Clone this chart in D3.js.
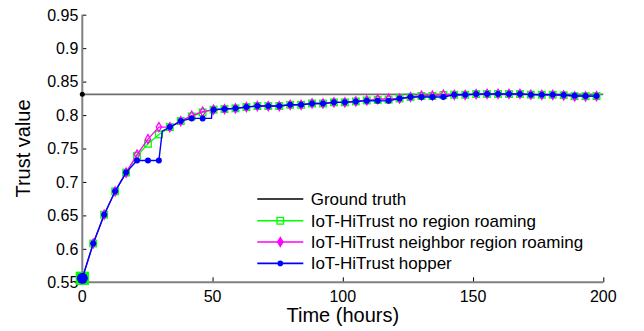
<!DOCTYPE html>
<html>
<head>
<meta charset="utf-8">
<script src="https://cdn.jsdelivr.net/npm/d3@7"></script>
<style>
body { margin: 0; background: #fff; }
text { font-family: Arial, "Liberation Sans", sans-serif; fill: #000; }
</style>
</head>
<body>
<div id="chart"></div>
<script>
// time of each sample (hours)
var times = [0, 4.2, 8.4, 12.6, 16.8, 21, 25.2, 29.4, 33.6, 37.8, 42, 46.2, 50.4, 54.6, 58.8, 63,
    67.2, 71.4, 75.6, 79.8, 84, 88.2, 92.4, 96.6, 100.8, 105, 109.2, 113.4, 117.6, 121.8, 126, 130.2,
    134.4, 138.6, 142.8, 147, 151.2, 155.4, 159.6, 163.8, 168, 172.2, 176.4, 180.6, 184.8, 189, 193.2, 197.4];

var groundTruth = 0.831;

var noRoaming = [0.556, 0.608, 0.651, 0.686, 0.714, 0.739, 0.757, 0.771, 0.782, 0.791, 0.798, 0.804,
    0.808, 0.809, 0.810, 0.812, 0.8135, 0.8135, 0.8135, 0.8153, 0.8153, 0.8173, 0.8173, 0.819, 0.819,
    0.8203, 0.8218, 0.8225, 0.823, 0.8247, 0.827, 0.8285, 0.8285, 0.830, 0.8303, 0.8303, 0.8313, 0.8315,
    0.8315, 0.8315, 0.8315, 0.8305, 0.8303, 0.8303, 0.8297, 0.8282, 0.8282, 0.8283];

var neighborRoaming = [0.556, 0.608, 0.651, 0.686, 0.714, 0.741, 0.764, 0.782, 0.782, 0.791, 0.799, 0.805,
    0.808, 0.809, 0.810, 0.812, 0.8135, 0.8135, 0.8135, 0.8153, 0.8153, 0.8173, 0.8173, 0.819, 0.819,
    0.8203, 0.8218, 0.8236, 0.8245, 0.8247, 0.827, 0.829, 0.829, 0.8305, 0.8303, 0.8303, 0.8313, 0.8315,
    0.8315, 0.8315, 0.8315, 0.8305, 0.8303, 0.8303, 0.8295, 0.828, 0.828, 0.8283];

var hopper = [0.556, 0.608, 0.651, 0.686, 0.714, 0.732, 0.732, 0.732, 0.782, 0.791, 0.795, 0.795,
    0.808, 0.809, 0.810, 0.812, 0.8135, 0.8135, 0.8135, 0.8153, 0.8153, 0.8173, 0.8173, 0.819, 0.819,
    0.8203, 0.8215, 0.8212, 0.8212, 0.8247, 0.827, 0.827, 0.827, 0.827, 0.8303, 0.8303, 0.8313, 0.8315,
    0.8315, 0.8315, 0.8315, 0.8305, 0.8303, 0.8303, 0.830, 0.8288, 0.8285, 0.8283];

// hopper line has extra (unmarked) samples where it jumps
var hopperSteps = [[30.7, 0.776], [49.6, 0.795], [49.8, 0.8066]];

var xTicks = [0, 50, 100, 150, 200];
var yTicks = [0.55, 0.6, 0.65, 0.7, 0.75, 0.8, 0.85, 0.9, 0.95];

var legendNames = ["Ground truth", "IoT-HiTrust no region roaming",
    "IoT-HiTrust neighbor region roaming", "IoT-HiTrust hopper"];
var legendColors = ["#000000", "#00ff00", "#ff00ff", "#0000ff"];

function make_chart(){

    var width = 644, height = 331;
    var left = 82.3, right = 603.3, top = 14.7, bottom = 282.3;

    var svg = d3.select("#chart")
        .append("svg")
        .attr("width", width)
        .attr("height", height);

    var x = d3.scaleLinear()
        .domain([0, 200])
        .range([left, right]);

    var y = d3.scaleLinear()
        .domain([0.55, 0.95])
        .range([bottom, top]);

    // axes, box off, ticks inward
    var xAxis = d3.axisTop(x).tickValues(xTicks).tickSize(5).tickFormat("");
    var yAxis = d3.axisRight(y).tickValues(yTicks).tickSize(4).tickFormat("");

    svg.append("g")
        .attr("class", "x axis")
        .attr("transform", "translate(0," + bottom + ")")
        .call(xAxis);
    svg.append("g")
        .attr("class", "y axis")
        .attr("transform", "translate(" + left + ",0)")
        .call(yAxis);

    svg.selectAll(".axis .domain").remove();
    svg.selectAll(".axis line").attr("stroke", "#000").attr("stroke-width", 1);

    svg.append("line")
        .attr("x1", left).attr("x2", left)
        .attr("y1", y(0.95)).attr("y2", y(0.55) + 1)
        .attr("stroke", "#808080").attr("stroke-width", 2);
    svg.append("line")
        .attr("x1", left - 1).attr("x2", right)
        .attr("y1", bottom).attr("y2", bottom)
        .attr("stroke", "#808080").attr("stroke-width", 2);

    svg.selectAll(".xlab")
        .data(xTicks)
        .enter()
        .append("text")
        .attr("class", "xlab")
        .attr("x", function(d){ return x(d); })
        .attr("y", bottom + 19.5)
        .style("text-anchor", "middle")
        .style("font-size", "16px")
        .text(function(d){ return d; });

    svg.selectAll(".ylab")
        .data(yTicks)
        .enter()
        .append("text")
        .attr("class", "ylab")
        .attr("x", left - 4)
        .attr("y", function(d){ return y(d) + 5.8; })
        .style("text-anchor", "end")
        .style("font-size", "16px")
        .text(function(d){ return d; });

    svg.append("text")
        .attr("x", (left + right) / 2)
        .attr("y", 322)
        .style("text-anchor", "middle")
        .style("font-size", "20px")
        .text("Time (hours)");

    svg.append("text")
        .attr("transform", "translate(29.5," + ((top + bottom) / 2) + ") rotate(-90)")
        .style("text-anchor", "middle")
        .style("font-size", "20px")
        .text("Trust value");

    // ground truth
    svg.append("line")
        .attr("x1", x(0)).attr("x2", x(200))
        .attr("y1", y(groundTruth)).attr("y2", y(groundTruth))
        .attr("stroke", "#6e6e6e").attr("stroke-width", 1.8);
    svg.append("circle")
        .attr("cx", x(0)).attr("cy", y(groundTruth))
        .attr("r", 2.5).attr("fill", "#000");

    var line = d3.line()
        .x(function(d){ return x(d[0]); })
        .y(function(d){ return y(d[1]); });

    function pairs(vals){
        return vals.map(function(v, i){ return [times[i], v]; });
    }

    var greenPts = pairs(noRoaming);
    var magPts = pairs(neighborRoaming);
    var bluePts = pairs(hopper);
    var blueLine = bluePts.concat(hopperSteps).sort(function(a, b){ return a[0] - b[0]; });

    svg.append("path").datum(greenPts).attr("d", line)
        .attr("fill", "none").attr("stroke", "#00ff00").attr("stroke-width", 1.3);
    svg.selectAll(".gm")
        .data(greenPts)
        .enter()
        .append("rect")
        .attr("class", "gm")
        .attr("x", function(d, i){ return x(d[0]) - (i == 0 ? 6 : 3.3); })
        .attr("y", function(d, i){ return y(d[1]) - (i == 0 ? 6 : 3.3); })
        .attr("width", function(d, i){ return i == 0 ? 12 : 6.6; })
        .attr("height", function(d, i){ return i == 0 ? 12 : 6.6; })
        .attr("fill", function(d, i){ return i == 0 ? "#00ff00" : "none"; })
        .attr("stroke", "#00ff00").attr("stroke-width", 1.3);

    svg.append("path").datum(magPts).attr("d", line)
        .attr("fill", "none").attr("stroke", "#ff00ff").attr("stroke-width", 1.3);
    var diamond = d3.symbol().type(d3.symbolDiamond).size(24);
    svg.selectAll(".mm")
        .data(magPts)
        .enter()
        .append("path")
        .attr("class", "mm")
        .attr("d", diamond)
        .attr("transform", function(d){ return "translate(" + x(d[0]) + "," + y(d[1]) + ")"; })
        .attr("fill", "none").attr("stroke", "#ff00ff").attr("stroke-width", 1.3);

    svg.append("path").datum(blueLine).attr("d", line)
        .attr("fill", "none").attr("stroke", "#0000ff").attr("stroke-width", 1.4);
    svg.selectAll(".bm")
        .data(bluePts)
        .enter()
        .append("circle")
        .attr("class", "bm")
        .attr("cx", function(d){ return x(d[0]); })
        .attr("cy", function(d){ return y(d[1]); })
        .attr("r", function(d, i){ return i == 0 ? 5.5 : 3; })
        .attr("fill", "#0000ff");

    // legend
    var rowY = [199, 220.8, 242, 263.4];
    var lg = svg.selectAll(".legend")
        .data(legendNames)
        .enter()
        .append("g")
        .attr("class", "legend")
        .attr("transform", function(d, i){ return "translate(257.3," + rowY[i] + ")"; });

    lg.append("line")
        .attr("x1", 0).attr("x2", 46)
        .attr("stroke", function(d, i){ return legendColors[i]; })
        .attr("stroke-width", 1.6);

    lg.append("text")
        .attr("x", 53.4)
        .attr("y", 6)
        .style("font-size", "17px")
        .text(function(d){ return d; });

    lg.filter(function(d, i){ return i == 1; })
        .append("rect")
        .attr("x", 19.7).attr("y", -3.3).attr("width", 6.6).attr("height", 6.6)
        .attr("fill", "none").attr("stroke", "#00ff00").attr("stroke-width", 1.3);
    lg.filter(function(d, i){ return i == 2; })
        .append("path")
        .attr("d", diamond)
        .attr("transform", "translate(23,0)")
        .attr("fill", "#ff00ff").attr("stroke", "#ff00ff").attr("stroke-width", 1.3);
    lg.filter(function(d, i){ return i == 3; })
        .append("circle")
        .attr("cx", 23).attr("r", 2.8)
        .attr("fill", "#0000ff");
}

make_chart();
</script>
</body>
</html>
